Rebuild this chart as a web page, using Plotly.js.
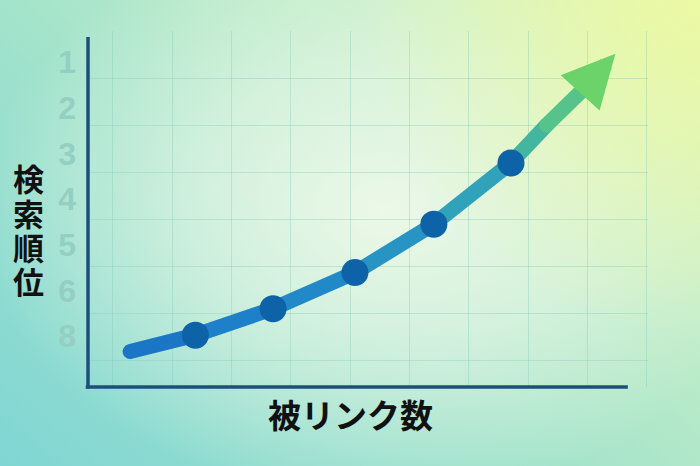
<!DOCTYPE html>
<html>
<head>
<meta charset="utf-8">
<script src="https://cdn.plot.ly/plotly-3.0.1.min.js"></script>
<style>
  html, body { margin: 0; padding: 0; }
  body {
    width: 700px; height: 466px; overflow: hidden;
    background:
      radial-gradient(circle at 100% 0%, rgba(236,249,164,1) 0%, rgba(236,249,164,0) 40%),
      radial-gradient(ellipse 58% 62% at 55% 45%, rgba(236,248,232,1) 0%, rgba(236,248,232,0.6) 50%, rgba(236,248,232,0) 100%),
      linear-gradient(40deg, #80d6d4 0%, #9fe2cc 40%, #c4eec6 75%, #dcf5b8 100%);
  }
  #plot { width: 700px; height: 466px; }
  .js-line { stroke-linecap: round; stroke-linejoin: round; }
</style>
</head>
<body>
<div id="plot"></div>
<script>
// rank labels on the y axis (7 is skipped in the picture)
const rankSlots = [1, 2, 3, 4, 5, 6, 7];
const rankLabels = ['1', '2', '3', '4', '5', '6', '8'];

// curve: backlinks (x) vs rank slot (y), last point = arrow tip
const linkX = [0.29, 1.39, 2.70, 4.08, 5.41, 6.71, 7.31, 7.92, 8.47];
const rankY = [7.34, 6.98, 6.40, 5.61, 4.55, 3.21, 2.38, 1.61, 0.82];

// the dots sit on these curve points
const dotIdx = [1, 2, 3, 4, 5];

// line goes from blue to green along the way
const segColors = ['#1b76c6', '#1e80c8', '#2189c8', '#2794c4', '#30a2ba', '#44b6a0', '#56c48a'];

const yTitle = ['検', '索', '順', '位'];
const xTitle = '被リンク数';

const n = linkX.length;
const traces = [];

for (let i = 0; i < n - 2; i++) {
    traces.push({
        x: [linkX[i], linkX[i + 1]],
        y: [rankY[i], rankY[i + 1]],
        mode: 'lines',
        line: { color: segColors[i], width: 15 },
        hoverinfo: 'skip',
        showlegend: false
    });
}

traces.push({
    x: dotIdx.map(i => linkX[i]),
    y: dotIdx.map(i => rankY[i]),
    mode: 'markers',
    marker: { color: '#0e63a8', size: 27 },
    hoverinfo: 'skip',
    showlegend: false
});

const gridColor = 'rgba(130,200,180,0.35)';

// horizontal grid is not aligned with the rank labels, it has its own spacing
const hGrid = [];
for (let k = 0; k < 8; k++) hGrid.push(0.33 + 1.029 * k);

// y title: one character per line, stacked tightly
const titleAnns = yTitle.map((ch, k) => ({
    text: ch,
    xref: 'paper', yref: 'paper',
    x: -0.107, y: (387 - (178 + k * 34)) / 356,
    xanchor: 'center', yanchor: 'middle',
    showarrow: false,
    font: { family: 'Noto Sans CJK JP', size: 31, weight: 'bold', color: '#111111' }
}));

const layout = {
    width: 700,
    height: 466,
    margin: { l: 88, r: 52, t: 31, b: 79, pad: 0 },
    paper_bgcolor: 'rgba(0,0,0,0)',
    plot_bgcolor: 'rgba(0,0,0,0)',
    showlegend: false,
    xaxis: {
        range: [-0.42, 9.02],
        tick0: 0,
        dtick: 1,
        showgrid: true,
        gridcolor: gridColor,
        gridwidth: 1,
        showticklabels: false,
        ticks: '',
        zeroline: false,
        showline: false,
        fixedrange: true
    },
    yaxis: {
        range: [8.116, 0.32],
        tickvals: rankSlots,
        ticktext: rankLabels,
        ticks: '',
        ticklabelstandoff: 11,
        tickfont: { family: 'Liberation Sans, Arial, sans-serif', size: 32, weight: 'bold', color: '#94cfc2' },
        showgrid: false,
        minor: {
            tickvals: hGrid,
            showgrid: true,
            gridcolor: gridColor,
            gridwidth: 1,
            ticks: ''
        },
        zeroline: false,
        showline: false,
        fixedrange: true
    },
    shapes: [
        // y axis line
        { type: 'line', xref: 'paper', yref: 'paper', x0: 0, x1: 0, y0: -0.004, y1: 0.983,
          line: { color: '#1c4e7e', width: 3.5 } },
        // x axis line
        { type: 'line', xref: 'paper', yref: 'paper', x0: -0.004, x1: 0.964, y0: 0, y1: 0,
          line: { color: '#1c4e7e', width: 3.5 } }
    ],
    annotations: [
        {
            x: linkX[n - 1], y: rankY[n - 1],
            ax: linkX[n - 2], ay: rankY[n - 2],
            xref: 'x', yref: 'y', axref: 'x', ayref: 'y',
            text: '',
            showarrow: true,
            arrowhead: 2,
            arrowsize: 0.7,
            arrowwidth: 15,
            arrowcolor: '#6cd36a',
            standoff: 0
        },
        ...titleAnns,
        {
            text: xTitle,
            xref: 'paper', yref: 'paper',
            x: 0.468, y: -0.076,
            xanchor: 'center', yanchor: 'middle',
            showarrow: false,
            font: { family: 'Noto Sans CJK JP', size: 33, weight: 'bold', color: '#111111' }
        }
    ]
};

const config = { displayModeBar: false, staticPlot: true };

Plotly.newPlot('plot', traces, layout, config);
</script>
</body>
</html>
